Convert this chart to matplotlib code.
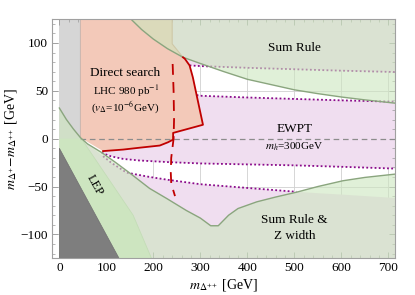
import matplotlib
matplotlib.use("Agg")
import matplotlib.pyplot as plt
from matplotlib.patches import Polygon
import numpy as np

plt.rcParams['font.family'] = ['Liberation Serif', 'DejaVu Serif']
plt.rcParams['mathtext.fontset'] = 'stix'

# ---------------- data ----------------
# upper "Sum Rule" boundary (region above is excluded)
sr_top_x = [152, 175, 200, 230, 263, 300, 350, 400, 450, 500, 550, 600, 650, 715]
sr_top_y = [125, 114, 104, 94, 85, 78.5, 70, 62, 56.5, 51, 47, 43.5, 40.5, 37]

# lower "Sum Rule & Z width" boundary (region below is excluded)
sr_bot_x = [0, 15, 30, 45, 60, 90, 120, 150, 192, 230, 270, 300, 322, 338,
            360, 380, 420, 460, 504, 550, 603, 650, 715]
sr_bot_y = [32, 20, 10, 1, -5.5, -14.5, -25, -36, -52, -63, -75, -83, -91, -91,
            -80, -73, -66, -61, -56, -50, -44, -40.5, -37]

# LEP boundary (thin line) and negative-mass region edge
lep_x = [0, 48, 51, 62, 100, 157, 196, 127, 0]
lep_y = [0, 0, -2.8, -11, -38.6, -80, -125, -125, -10]
neg_x = [0, 127, 0]
neg_y = [-10, -125, -125]

# direct search (LHC 980 pb^-1) excluded region boundary
ds_edge_x = [240, 240, 263]
ds_edge_y = [125, 99, 85]
ds_red_x = [263, 267, 277, 284, 292, 305.5, 242, 242, 231, 213.6, 170, 136, 93]
ds_red_y = [85, 83.4, 76.5, 64, 45.5, 14.5, 6, -1, -3.8, -7.2, -9.5, -11.4, -13]
ds_dash_x = [241, 243, 244, 243, 238, 237, 238, 246]
ds_dash_y = [78, 50, 20, 0, -20, -35, -47, -60]

# EWPT (m_h = 300 GeV) allowed-band boundaries
ew1_top_x = [277, 300, 400, 500, 600, 715]
ew1_top_y = [76.5, 75.8, 74, 72.5, 71, 69.6]
ew1_bot_x = [292, 300, 400, 500, 600, 715]
ew1_bot_y = [45.5, 44.8, 43, 41.5, 40, 38.6]
ew2_top_x = [90, 110, 136, 170, 231, 300, 400, 500, 600, 715]
ew2_top_y = [-14.8, -18.5, -21.2, -22.8, -24.5, -25.9, -26.9, -27.9, -29.4, -31.3]
ew2_bot_x = [93, 110, 143, 192, 231, 300, 400, 504, 550, 603, 650, 715]
ew2_bot_y = [-18.3, -25, -35.5, -40, -43, -47.6, -51.5, -55.5, -57, -58.5, -60, -62]
ew2_bot_visible = 8  # dotted line shown up to where it meets the Z-width curve

xticks = [0, 100, 200, 300, 400, 500, 600, 700]
yticks = [-100, -50, 0, 50, 100]

# ---------------- figure ----------------
fig = plt.figure(figsize=(4.15, 2.95), dpi=100)
ax = fig.add_axes([0.126, 0.1244, 0.827, 0.8112])
ax.set_xlim(-15, 715)
ax.set_ylim(-125, 125)

XMIN, XMAX, YMIN, YMAX = 0, 715, -125, 125
GB = 45  # gray band edge

purple = '#f0def0'
green = (0.80, 0.90, 0.745)
salmon = '#f3c9b9'

# grid (only visible in white areas)
for xv in range(100, 701, 100):
    ax.axvline(xv, color='#d0d0d0', lw=0.6, zorder=0.5)
for yv in yticks:
    ax.axhline(yv, color='#d0d0d0', lw=0.6, zorder=0.5)

# gray band
ax.add_patch(Polygon([(0, YMIN), (GB, YMIN), (GB, YMAX), (0, YMAX)], closed=True,
                     fc='#d6d6d6', ec='none', zorder=1))
ax.plot([GB, GB], [YMIN, YMAX], color='#a8a8a8', lw=0.8, zorder=1.1)

# EWPT excluded regions (purple)
top_poly = list(zip(ew1_top_x, ew1_top_y)) + [(XMAX, YMAX), (GB, YMAX)]
mid_poly = list(zip(ew1_bot_x, ew1_bot_y)) + list(zip(ew2_top_x[::-1], ew2_top_y[::-1]))
bot_poly = list(zip(ew2_bot_x, ew2_bot_y)) + [(XMAX, YMIN), (GB, YMIN), (GB, 0)]
for p in (top_poly, mid_poly, bot_poly):
    ax.add_patch(Polygon(p, closed=True, fc=purple, ec='none', zorder=1.2))

# LEP region
ax.add_patch(Polygon(list(zip(lep_x, lep_y)), closed=True, fc='#cfe4c4', ec='none', zorder=2))
ax.plot(lep_x[2:7], lep_y[2:7], color='#b8cfad', lw=0.6, zorder=2.1)

# direct-search region
ds_poly = [(GB, YMAX)] + list(zip(ds_edge_x, ds_edge_y)) + list(zip(ds_red_x, ds_red_y)) + [(GB, 1)]
ax.add_patch(Polygon(ds_poly, closed=True, fc=salmon, ec='none', zorder=2.5))
ax.plot(ds_edge_x, ds_edge_y, color='#d29a86', lw=0.8, zorder=2.6)

# dashed zero line
ax.plot([GB, XMAX], [0, 0], color='#8c8c8c', lw=0.9, ls=(0, (4.5, 3)), zorder=2.7)

# EWPT dotted lines
for xs, ys in ((ew1_top_x, ew1_top_y), (ew1_bot_x, ew1_bot_y),
               (ew2_top_x, ew2_top_y),
               (ew2_bot_x[:ew2_bot_visible], ew2_bot_y[:ew2_bot_visible])):
    ax.plot(xs, ys, color='#8a0a8a', lw=1.3, ls=(0, (1, 1.3)), zorder=3)

# Sum rule regions (translucent green)
top_sr = list(zip(sr_top_x, sr_top_y)) + [(XMAX, YMAX)]
bot_sr = list(zip(sr_bot_x, sr_bot_y)) + [(XMAX, YMIN), (0, YMIN)]
for p in (top_sr, bot_sr):
    ax.add_patch(Polygon(p, closed=True, fc=green, alpha=0.6, ec='none', zorder=4))
ax.plot(sr_top_x, sr_top_y, color='#8aa57e', lw=1.0, zorder=4.1)
ax.plot(sr_bot_x, sr_bot_y, color='#8aa57e', lw=1.0, zorder=4.1)

# negative mass region
ax.add_patch(Polygon(list(zip(neg_x, neg_y)), closed=True, fc='#7e7e7e', ec='#6f6f6f',
                     lw=0.5, zorder=4.5))

# red direct search curves
ax.plot(ds_red_x, ds_red_y, color='#c00000', lw=1.3, zorder=6)
ax.plot(ds_dash_x, ds_dash_y, color='#c00000', lw=1.3, ls=(0, (6, 4)), zorder=6)

# texts
ax.text(500, 95, 'Sum Rule', ha='center', va='center', fontsize=9.5, zorder=7)
ax.text(139, 69, 'Direct search', ha='center', va='center', fontsize=9.5, zorder=7)
ax.text(141, 50, 'LHC 980 pb$^{-1}$', ha='center', va='center', fontsize=8, zorder=7)
ax.text(139, 32, '($v_\\Delta$=10$^{-6}$GeV)', ha='center', va='center', fontsize=8, zorder=7)
ax.text(500, 10, 'EWPT', ha='center', va='center', fontsize=9.5, zorder=7)
ax.text(499, -8, '$m_h$=300GeV', ha='center', va='center', fontsize=8, zorder=7)
ax.text(76, -49, 'LEP', ha='center', va='center', fontsize=9, rotation=-61, zorder=7)
ax.text(500, -85, 'Sum Rule &', ha='center', va='center', fontsize=9.5, zorder=7)
ax.text(500, -102, 'Z width', ha='center', va='center', fontsize=9.5, zorder=7)

# axes styling
ax.set_xticks(xticks)
ax.set_yticks(yticks)
ax.set_xticks(np.arange(0, 716, 20), minor=True)
ax.set_yticks(np.arange(-120, 121, 10), minor=True)
ax.tick_params(which='both', direction='in', top=True, right=True, color='#9a9a9a',
               labelsize=9.5, pad=3)
ax.tick_params(which='major', length=4, width=0.6)
ax.tick_params(which='minor', length=2, width=0.5)
for s in ax.spines.values():
    s.set_color('#a0a0a0')
    s.set_linewidth(0.8)
    s.set_zorder(8)

ax.set_xlabel('$m_{\\Delta^{++}}$ [GeV]', fontsize=10, labelpad=2)
ax.set_ylabel('$m_{\\Delta^{+}}\\!-\\!m_{\\Delta^{++}}$ [GeV]', fontsize=10, labelpad=1)

fig.savefig('out.png', dpi=100)
